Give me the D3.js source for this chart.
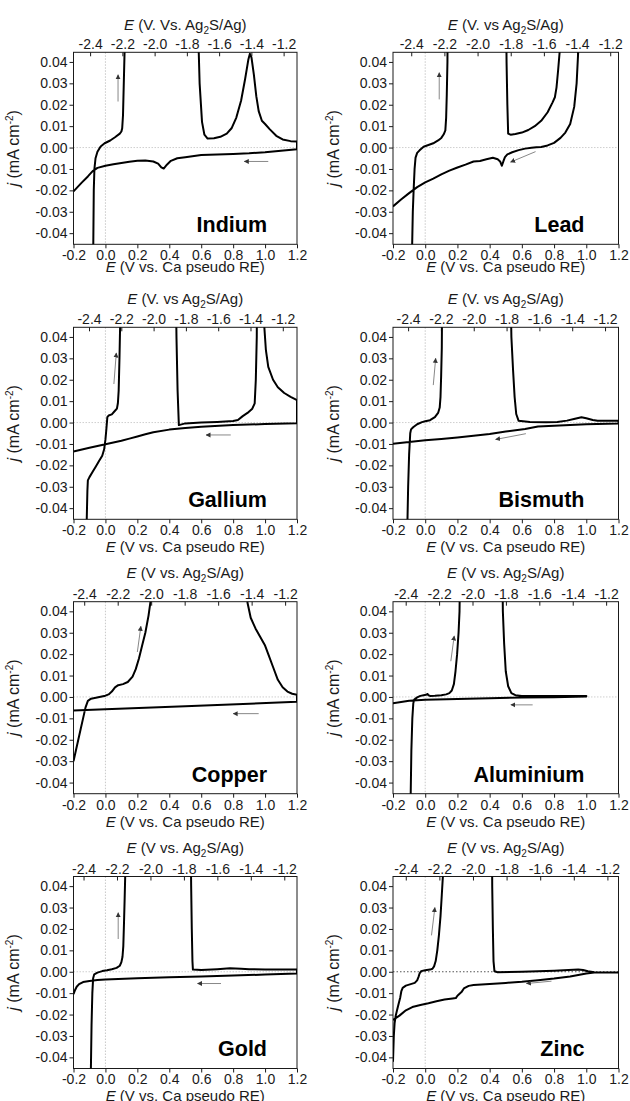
<!DOCTYPE html>
<html><head><meta charset="utf-8">
<script src="https://cdn.jsdelivr.net/npm/d3@7"></script>
<style>
body{margin:0;background:#fff;}
svg{display:block;font-family:"Liberation Sans",Arial,sans-serif;}
</style></head><body>
<svg id="chart" width="630" height="1101"></svg>
<script>
// ---------- data ----------
const metals = ["Indium","Lead","Gallium","Bismuth","Copper","Aluminium","Gold","Zinc"];
const topTitleTexts = [
  ["V. Vs. Ag","S/Ag)"],["V. vs Ag","S/Ag)"],["V. vs Ag","S/Ag)"],["V. vs Ag","S/Ag)"],
  ["V vs. Ag","S/Ag)"],["V vs. Ag","S/Ag)"],["V vs. Ag","S/Ag)"],["V vs. Ag","S/Ag)"]
];
const eTicks = [-0.2,0,0.2,0.4,0.6,0.8,1.0,1.2];
const jTicks = [-0.04,-0.03,-0.02,-0.01,0,0.01,0.02,0.03,0.04];
const refTicks = [-2.4,-2.2,-2.0,-1.8,-1.6,-1.4,-1.2];
const eDomain = [-0.2,1.2];
const jDomain = [-0.0452,0.0445];
const refDomains = [[-2.503,-1.117],[-2.51,-1.15],[-2.496,-1.112],[-2.492,-1.118],
                    [-2.464,-1.129],[-2.476,-1.126],[-2.46,-1.124],[-2.476,-1.134]];

// current-potential traces [E (V vs Ca), j (mA cm-2)]; off-scale excursions set to 0.07
const indium = [[-0.078,-0.07],[-0.076,-0.045],[-0.073,-0.02],[-0.069,-0.01],[-0.062,-0.005],[-0.05,-0.002],[-0.03,0.0005],[-0.005,0.002],[0.03,0.0033],[0.06,0.0048],[0.09,0.0065],[0.1,0.0075],[0.105,0.009],[0.11,0.015],[0.115,0.03],[0.12,0.045],[0.123,0.07],
 [0.575,0.07],[0.59,0.03],[0.605,0.012],[0.62,0.006],[0.64,0.0042],[0.68,0.0043],[0.72,0.005],[0.76,0.0065],[0.79,0.009],[0.82,0.014],[0.85,0.022],[0.875,0.032],[0.895,0.041],[0.905,0.0438],[0.915,0.042],[0.93,0.034],[0.945,0.024],[0.96,0.017],[0.98,0.0125],[1.0,0.011],[1.03,0.0085],[1.07,0.0055],[1.11,0.0038],[1.16,0.003],[1.2,0.0028],
 [1.2,-0.0008],[1.1,-0.0015],[1.0,-0.0022],[0.9,-0.0027],[0.8,-0.003],[0.7,-0.0032],[0.6,-0.0035],[0.5,-0.0045],[0.45,-0.005],[0.41,-0.0062],[0.385,-0.008],[0.365,-0.0098],[0.35,-0.0093],[0.33,-0.0075],[0.3,-0.0065],[0.25,-0.006],[0.2,-0.0062],[0.15,-0.0066],[0.1,-0.0072],[0.05,-0.0078],[0.0,-0.0085],[-0.05,-0.0095],[-0.08,-0.011],[-0.11,-0.0135],[-0.15,-0.0165],[-0.2,-0.0205]];
const lead = [[-0.083,-0.07],[-0.081,-0.045],[-0.077,-0.03],[-0.072,-0.02],[-0.066,-0.01],[-0.06,-0.0047],[-0.05,-0.0025],[-0.035,-0.0013],[-0.01,0.0004],[0.02,0.0012],[0.05,0.002],[0.08,0.0033],[0.1,0.0045],[0.115,0.0062],[0.125,0.008],[0.13,0.014],[0.134,0.025],[0.138,0.04],[0.14,0.07],
 [0.502,0.07],[0.505,0.04],[0.51,0.02],[0.515,0.0065],[0.53,0.006],[0.56,0.0063],[0.6,0.007],[0.64,0.0082],[0.68,0.01],[0.72,0.0125],[0.76,0.0165],[0.79,0.021],[0.805,0.0235],[0.815,0.028],[0.825,0.036],[0.835,0.045],[0.84,0.07],
 [0.955,0.07],[0.95,0.045],[0.94,0.03],[0.925,0.019],[0.9,0.011],[0.87,0.007],[0.84,0.0045],[0.8,0.0022],[0.76,0.001],[0.72,0.0003],[0.69,0.0001],[0.66,-0.0001],[0.62,-0.0005],[0.58,-0.0012],[0.54,-0.0022],[0.51,-0.0032],[0.495,-0.0045],[0.485,-0.0065],[0.476,-0.0085],[0.465,-0.0065],[0.45,-0.0055],[0.42,-0.0048],[0.38,-0.0055],[0.34,-0.0063],[0.3,-0.0065],[0.25,-0.008],[0.2,-0.0093],[0.15,-0.0108],[0.1,-0.0125],[0.05,-0.0145],[0.0,-0.0163],[-0.05,-0.0185],[-0.1,-0.0213],[-0.15,-0.0243],[-0.2,-0.0275]];
const gallium = [[-0.119,-0.07],[-0.117,-0.045],[-0.113,-0.032],[-0.11,-0.027],[-0.1,-0.0255],[-0.08,-0.023],[-0.06,-0.0205],[-0.04,-0.018],[-0.02,-0.0155],[-0.008,-0.0125],[0.0,-0.008],[0.006,-0.003],[0.012,0.0025],[0.02,0.0033],[0.04,0.0038],[0.06,0.0055],[0.072,0.0065],[0.078,0.009],[0.083,0.015],[0.088,0.03],[0.092,0.045],[0.095,0.07],
 [0.44,0.07],[0.445,0.04],[0.452,0.015],[0.46,-0.0012],[0.5,-0.0004],[0.6,0],[0.7,0.0003],[0.8,0.0007],[0.83,0.0012],[0.86,0.003],[0.89,0.0045],[0.92,0.0065],[0.935,0.009],[0.942,0.02],[0.948,0.04],[0.95,0.07],
 [0.99,0.07],[0.995,0.045],[1.005,0.034],[1.02,0.026],[1.05,0.02],[1.08,0.0165],[1.12,0.0138],[1.16,0.012],[1.2,0.0105],
 [1.2,-0.0003],[1.0,-0.0007],[0.8,-0.0012],[0.6,-0.002],[0.5,-0.0025],[0.4,-0.0033],[0.3,-0.0045],[0.25,-0.0055],[0.2,-0.0065],[0.15,-0.0075],[0.1,-0.0085],[0.05,-0.0093],[0.0,-0.0101],[-0.1,-0.0118],[-0.2,-0.0135]];
const bismuth = [[-0.112,-0.07],[-0.11,-0.045],[-0.106,-0.03],[-0.1,-0.015],[-0.093,-0.005],[-0.088,-0.0032],[-0.075,-0.0022],[-0.05,-0.0008],[-0.02,0.0002],[0.0,0.0006],[0.03,0.0011],[0.06,0.0025],[0.08,0.0045],[0.09,0.007],[0.095,0.012],[0.099,0.022],[0.103,0.035],[0.106,0.07],
 [0.528,0.07],[0.535,0.04],[0.545,0.025],[0.555,0.012],[0.565,0.004],[0.58,0.0008],[0.65,0.0003],[0.75,0.0001],[0.82,0.0003],[0.88,0.0009],[0.93,0.0018],[0.97,0.0025],[1.0,0.002],[1.04,0.0012],[1.07,0.0008],[1.2,0.0008],
 [1.2,-0.0004],[1.0,-0.0008],[0.8,-0.0015],[0.7,-0.0018],[0.66,-0.0024],[0.62,-0.003],[0.5,-0.0042],[0.4,-0.0053],[0.3,-0.0062],[0.2,-0.007],[0.1,-0.0077],[0.0,-0.0083],[-0.1,-0.0091],[-0.2,-0.0099]];
const copper = [[-0.2,-0.03],[-0.185,-0.025],[-0.17,-0.02],[-0.155,-0.015],[-0.14,-0.01],[-0.125,-0.005],[-0.11,-0.0018],[-0.09,-0.0008],[-0.06,-0.0004],[-0.03,0.0001],[0.0,0.0006],[0.02,0.0012],[0.04,0.0025],[0.06,0.0045],[0.08,0.0055],[0.11,0.006],[0.14,0.007],[0.17,0.0095],[0.19,0.013],[0.21,0.018],[0.23,0.024],[0.25,0.03],[0.27,0.038],[0.285,0.046],[0.29,0.07],
 [0.88,0.07],[0.89,0.044],[0.91,0.037],[0.94,0.032],[0.97,0.028],[1.0,0.024],[1.02,0.02],[1.05,0.014],[1.08,0.008],[1.11,0.0045],[1.14,0.0025],[1.17,0.0015],[1.2,0.001],
 [1.2,-0.0023],[0.5,-0.0043],[0.0,-0.0057],[-0.2,-0.0063]];
const aluminium = [[-0.092,-0.07],[-0.09,-0.045],[-0.086,-0.025],[-0.08,-0.01],[-0.074,-0.003],[-0.068,-0.0012],[-0.05,-0.0002],[-0.03,0.0005],[-0.01,0.0008],[0.005,0.001],[0.015,0.0014],[0.02,0.0008],[0.03,0.0005],[0.06,0.0006],[0.1,0.0008],[0.13,0.0012],[0.15,0.0018],[0.165,0.003],[0.178,0.006],[0.188,0.012],[0.198,0.02],[0.207,0.03],[0.213,0.04],[0.218,0.07],
 [0.478,0.07],[0.482,0.04],[0.49,0.025],[0.5,0.012],[0.515,0.005],[0.535,0.0018],[0.56,0.0008],[0.6,0.0005],[0.8,0.0004],[1.0,0.0005],
 [1.0,0.0002],[0.8,-0.0001],[0.6,-0.0003],[0.4,-0.0006],[0.2,-0.0009],[0.0,-0.0013],[-0.1,-0.0018],[-0.2,-0.003]];
const gold = [[-0.093,-0.07],[-0.091,-0.045],[-0.087,-0.025],[-0.082,-0.01],[-0.077,-0.003],[-0.07,-0.0012],[-0.05,-0.0004],[-0.02,0.0003],[0.01,0.0007],[0.04,0.0012],[0.07,0.0018],[0.09,0.0028],[0.1,0.0045],[0.107,0.007],[0.112,0.012],[0.116,0.022],[0.12,0.033],[0.124,0.045],[0.126,0.07],
 [0.533,0.07],[0.537,0.04],[0.541,0.02],[0.545,0.005],[0.548,0.001],[0.6,0.0008],[0.7,0.0012],[0.78,0.0016],[0.85,0.0014],[0.9,0.0012],[1.0,0.0011],[1.2,0.001],
 [1.2,-0.0008],[1.0,-0.0013],[0.8,-0.0018],[0.6,-0.0022],[0.4,-0.0026],[0.2,-0.003],[0.0,-0.0036],[-0.05,-0.0039],[-0.1,-0.0043],[-0.14,-0.0048],[-0.165,-0.0058],[-0.18,-0.007],[-0.19,-0.0085],[-0.2,-0.0105]];
const zinc = [[-0.2,-0.042],[-0.195,-0.03],[-0.19,-0.024],[-0.183,-0.0205],[-0.175,-0.018],[-0.165,-0.015],[-0.155,-0.012],[-0.148,-0.009],[-0.14,-0.0075],[-0.12,-0.0065],[-0.09,-0.0058],[-0.065,-0.0052],[-0.05,-0.004],[-0.042,-0.0025],[-0.035,-0.0008],[-0.025,0.0003],[0.0,0.0007],[0.03,0.001],[0.045,0.0014],[0.055,0.0025],[0.065,0.005],[0.075,0.01],[0.085,0.017],[0.095,0.026],[0.103,0.036],[0.11,0.045],[0.112,0.07],
 [0.414,0.07],[0.416,0.04],[0.42,0.02],[0.424,0.005],[0.43,0.0002],[0.45,-0.0002],[0.6,0],[0.8,0.0005],[0.95,0.001],[0.98,0.0008],[1.01,0.0002],[1.05,-0.0002],[1.2,-0.0003],
 [1.2,-0.0004],[1.05,-0.0004],[1.0,-0.0008],[0.9,-0.0022],[0.8,-0.0032],[0.7,-0.004],[0.6,-0.0047],[0.5,-0.0052],[0.4,-0.0057],[0.3,-0.0062],[0.27,-0.0066],[0.24,-0.0078],[0.225,-0.0095],[0.21,-0.0105],[0.2,-0.0112],[0.19,-0.0123],[0.17,-0.0125],[0.12,-0.013],[0.07,-0.0138],[0.02,-0.0147],[-0.03,-0.0155],[-0.08,-0.0165],[-0.12,-0.018],[-0.16,-0.0205],[-0.2,-0.0225]];
const traces = [indium, lead, gallium, bismuth, copper, aluminium, gold, zinc];

// sweep-direction arrows [[E0,j0],[E1,j1]] per panel
const sweepArrows = [
  [[[0.079,0.0215],[0.079,0.034]],[[1.02,-0.0065],[0.87,-0.0065]]],
  [[[0.087,0.0225],[0.087,0.035]],[[0.685,-0.0019],[0.53,-0.0068]]],
  [[[0.053,0.018],[0.068,0.0325]],[[0.785,-0.0058],[0.63,-0.0058]]],
  [[[0.05,0.0175],[0.065,0.03]],[[0.625,-0.0052],[0.437,-0.0079]]],
  [[[0.2,0.021],[0.222,0.033]],[[0.96,-0.0078],[0.8,-0.0078]]],
  [[[0.159,0.0167],[0.18,0.0285]],[[0.667,-0.0037],[0.532,-0.0037]]],
  [[[0.08,0.0153],[0.08,0.0276]],[[0.724,-0.0055],[0.577,-0.0055]]],
  [[[0.039,0.017],[0.06,0.03]],[[0.784,-0.0044],[0.628,-0.0055]]]
];

// ---------- layout ----------
const colX = [[73.5,297],[393,618.5]];
const rowY = [52.3,327.3,601.7,876.5];
const plotH = 192;
const bottomTitleOff = [28,33,33,32];
const topTitleOff = [22,23,24,24];
const ink = "#1a1a1a";

const svg = d3.select("#chart");
const defs = svg.append("defs");
defs.append("marker").attr("id","ah").attr("viewBox","0 0 10 10").attr("refX",9).attr("refY",5)
  .attr("markerWidth",5).attr("markerHeight",6).attr("orient","auto-start-reverse")
  .append("path").attr("d","M0,0 L10,5 L0,10 z").attr("fill","#333");

metals.forEach((name,i)=>{
  const col = i%2, row = Math.floor(i/2);
  const [x0,x1] = colX[col];
  const y0 = rowY[row], y1 = y0+plotH;
  const x = d3.scaleLinear().domain(eDomain).range([x0,x1]);
  const y = d3.scaleLinear().domain(jDomain).range([y1,y0]);
  const xr = d3.scaleLinear().domain(refDomains[i]).range([x0,x1]);
  const g = svg.append("g");

  defs.append("clipPath").attr("id","clip"+i).append("rect")
    .attr("x",x0).attr("y",y0).attr("width",x1-x0).attr("height",plotH);

  // reference lines
  g.append("line").attr("x1",x(0)).attr("x2",x(0)).attr("y1",y0).attr("y2",y1)
    .attr("stroke","#c8c8c8").attr("stroke-width",1).attr("stroke-dasharray","1.5,1.5");
  g.append("line").attr("x1",x0).attr("x2",x1).attr("y1",y(0)).attr("y2",y(0))
    .attr("stroke", name==="Zinc" ? "#555" : "#cfcfcf").attr("stroke-width",1)
    .attr("stroke-dasharray", name==="Zinc" ? "1.5,2" : "1.5,1.5");

  // axes
  const fmt = (k)=>(d=>{const s=d.toFixed(k); return s==="-0.00"?"0.00":(s==="-0.0"?"0.0":s);});
  const ax = g.append("g").attr("transform",`translate(0,${y1})`)
    .call(d3.axisBottom(x).tickValues(eTicks).tickSize(4).tickSizeOuter(0).tickPadding(2).tickFormat(fmt(1)));
  const ay = g.append("g").attr("transform",`translate(${x0},0)`)
    .call(d3.axisLeft(y).tickValues(jTicks).tickSize(4).tickSizeOuter(0).tickPadding(2).tickFormat(fmt(2)));
  const at = g.append("g").attr("transform",`translate(0,${y0})`)
    .call(d3.axisTop(xr).tickValues(refTicks).tickSize(-4).tickSizeOuter(0).tickPadding(3).tickFormat(fmt(1)));
  [ax,ay,at].forEach(a=>{
    a.select(".domain").remove();
    a.selectAll("line").attr("stroke",ink);
    a.selectAll("text").attr("font-size",14).attr("fill",ink).attr("font-family","Liberation Sans, Arial, sans-serif");
  });
  // frame
  g.append("rect").attr("x",x0).attr("y",y0).attr("width",x1-x0).attr("height",plotH)
    .attr("fill","none").attr("stroke",ink).attr("stroke-width",1);

  // trace
  const line = d3.line().x(d=>x(d[0])).y(d=>y(d[1]));
  g.append("path").datum(traces[i]).attr("d",line).attr("clip-path",`url(#clip${i})`)
    .attr("fill","none").attr("stroke","#000").attr("stroke-width",2).attr("stroke-linejoin","round");

  // arrows
  sweepArrows[i].forEach(a=>{
    g.append("line").attr("x1",x(a[0][0])).attr("y1",y(a[0][1])).attr("x2",x(a[1][0])).attr("y2",y(a[1][1]))
      .attr("stroke","#888").attr("stroke-width",1).attr("marker-end","url(#ah)");
  });

  // metal label
  g.append("text").attr("x",x1-(col===0?30:34)).attr("y",y(-0.04)-1).attr("text-anchor","end")
    .attr("font-size",21.5).attr("font-weight","bold").attr("fill","#000").text(name);

  // top title
  const tt = g.append("text").attr("x",(x0+x1)/2).attr("y",y0-topTitleOff[row]).attr("text-anchor","middle")
    .attr("font-size",15).attr("fill",ink);
  tt.append("tspan").attr("font-style","italic").text("E");
  tt.append("tspan").text(" ("+topTitleTexts[i][0]);
  tt.append("tspan").attr("font-size",10).attr("dy",4).text("2");
  tt.append("tspan").attr("dy",-4).text(topTitleTexts[i][1]);

  // bottom title
  const bt = g.append("text").attr("x",(x0+x1)/2).attr("y",y1+bottomTitleOff[row]).attr("text-anchor","middle")
    .attr("font-size",15).attr("fill",ink);
  bt.append("tspan").attr("font-style","italic").text("E");
  bt.append("tspan").text(" (V vs. Ca pseudo RE)");

  // y title
  const yl = g.append("text").attr("transform",`translate(${col===0?19:339},${(y0+y1)/2}) rotate(-90)`)
    .attr("text-anchor","middle").attr("font-size",16).attr("fill",ink);
  yl.append("tspan").attr("font-style","italic").text("j");
  yl.append("tspan").text(" (mA cm");
  yl.append("tspan").attr("font-size",10).attr("dy",-6).text("-2");
  yl.append("tspan").attr("dy",6).text(")");
});
</script>
</body></html>
